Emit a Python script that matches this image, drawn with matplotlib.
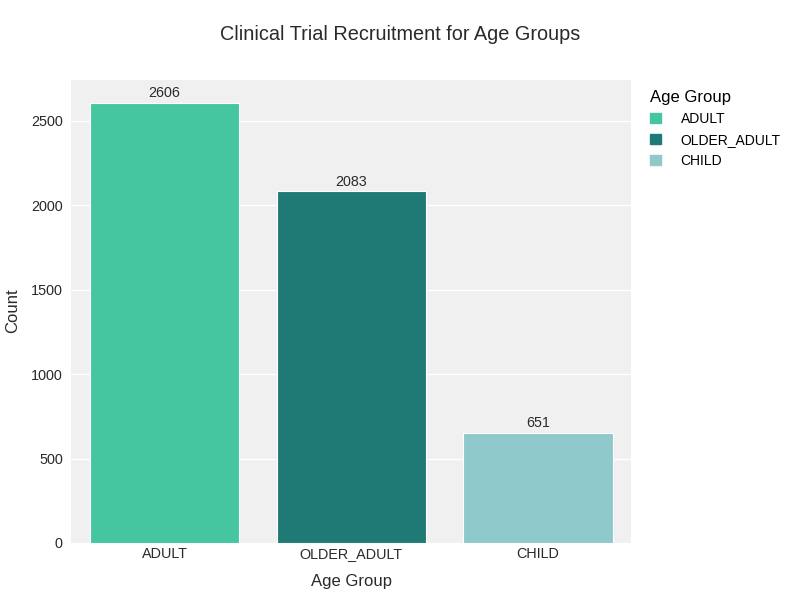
import matplotlib.pyplot as plt
import matplotlib.patches as mpatches

plt.rcParams['font.family'] = ['Liberation Sans', 'DejaVu Sans']

# data
age_groups = ['ADULT', 'OLDER_ADULT', 'CHILD']
counts = [2606, 2083, 651]
colors = ['#45c6a0', '#1f7a76', '#90c9cb']

fig = plt.figure(figsize=(8, 6), dpi=100)
ax = fig.add_axes([0.089, 0.095, 0.7, 0.7717])
ax.set_facecolor('#f0f0f0')

x = range(len(age_groups))
bars = ax.bar(x, counts, width=0.8, color=colors, edgecolor='white', linewidth=0.8, zorder=3)
for b, v in zip(bars, counts):
    ax.annotate(str(v), (b.get_x() + b.get_width() / 2, v), xytext=(0, 2),
                textcoords='offset points', ha='center', va='bottom',
                fontsize=10.3, color='#2a2a2a', zorder=4)

ax.set_xlim(-0.5, 2.5)
ax.set_ylim(0, 2743)
ax.set_yticks([0, 500, 1000, 1500, 2000, 2500])
ax.set_xticks(list(x))
ax.set_xticklabels(age_groups)
ax.grid(axis='y', color='white', linewidth=1, zorder=0)
ax.tick_params(axis='x', length=0, labelsize=10.4, colors='#2a2a2a', pad=3)
ax.tick_params(axis='y', length=0, labelsize=10.4, colors='#2a2a2a', pad=6)
for s in ax.spines.values():
    s.set_visible(False)

ax.set_xlabel('Age Group', fontsize=12, color='#2a2a2a', labelpad=9)
fig.text(0.016, 0.482, 'Count', rotation=90, ha='center', va='center',
         fontsize=12, color='#2a2a2a')
fig.text(0.5, 0.943, 'Clinical Trial Recruitment for Age Groups', ha='center', va='center',
         fontsize=14.3, color='#2a2a2a')

handles = [mpatches.Patch(color=c, label=g) for g, c in zip(age_groups, colors)]
leg = fig.legend(handles=handles, title='Age Group', loc='upper left',
                 bbox_to_anchor=(0.797, 0.871), frameon=False, fontsize=10,
                 title_fontsize=12, handlelength=0.8, handleheight=0.8,
                 handletextpad=1.4, labelspacing=0.5)
leg._legend_box.align = 'left'

fig.savefig('out.png', dpi=100)
